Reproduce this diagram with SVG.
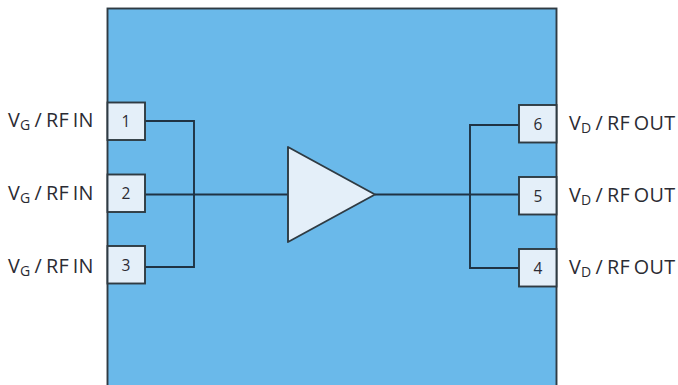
<svg xmlns="http://www.w3.org/2000/svg" width="678" height="385" viewBox="0 0 678 385">
<style>
.pin{fill:#e4eff9;stroke:#2f3b43;stroke-width:1.9}
.wire{fill:none;stroke:#1f3344;stroke-width:1.9}
text{font-family:"Open Sans","Noto Sans",sans-serif;fill:#2b2b33}
.lbl{font-size:19.8px;word-spacing:-1.5px;letter-spacing:0.28px}
.sub{font-size:14px}
.num{font-size:15.5px;text-anchor:middle}
</style>
<rect width="678" height="385" fill="#fff"/>
<g id="body"><rect x="107.5" y="8.5" width="449" height="390" fill="#6ab9ea" stroke="#2f3b43" stroke-width="1.9"/></g>
<g id="connectors">
<path class="wire" d="M145 121H194V267H145M145 194.5H288"/>
<path class="wire" d="M519 125H470V268H519M375 194.5H519"/>
</g>
<g id="pin1"><rect class="pin" x="107.5" y="102.5" width="37.5" height="37.5"/><text class="num" x="126" y="126.500">1</text></g>
<g id="pin2"><rect class="pin" x="107.5" y="174.5" width="37.5" height="37.5"/><text class="num" x="126" y="198.5">2</text></g>
<g id="pin3"><rect class="pin" x="107.5" y="246" width="37.5" height="37.5"/><text class="num" x="126" y="270.5">3</text></g>
<g id="pin6"><rect class="pin" x="519" y="105" width="37.5" height="37.5"/><text class="num" x="538" y="129.500">6</text></g>
<g id="pin5"><rect class="pin" x="519" y="177" width="37.5" height="37.5"/><text class="num" x="538" y="201.5">5</text></g>
<g id="pin4"><rect class="pin" x="519" y="249" width="37.5" height="37.5"/><text class="num" x="538" y="273.5">4</text></g>
<g id="amplifier"><polygon points="288,147 375,194.5 288,242" fill="#e4eff9" stroke="#2f3b43" stroke-width="1.9" stroke-linejoin="round"/></g>
<g id="label-left-1"><text class="lbl" x="8" y="126.500">V<tspan class="sub" dy="3">G</tspan><tspan dy="-3"> / RF IN</tspan></text></g>
<g id="label-left-2"><text class="lbl" x="8" y="199.500">V<tspan class="sub" dy="3">G</tspan><tspan dy="-3"> / RF IN</tspan></text></g>
<g id="label-left-3"><text class="lbl" x="8" y="272.500">V<tspan class="sub" dy="3">G</tspan><tspan dy="-3"> / RF IN</tspan></text></g>
<g id="label-right-1"><text class="lbl" x="569" y="129.500">V<tspan class="sub" dy="3">D</tspan><tspan dy="-3"> / RF OUT</tspan></text></g>
<g id="label-right-2"><text class="lbl" x="569" y="201.500">V<tspan class="sub" dy="3">D</tspan><tspan dy="-3"> / RF OUT</tspan></text></g>
<g id="label-right-3"><text class="lbl" x="569" y="273.500">V<tspan class="sub" dy="3">D</tspan><tspan dy="-3"> / RF OUT</tspan></text></g>
</svg>
